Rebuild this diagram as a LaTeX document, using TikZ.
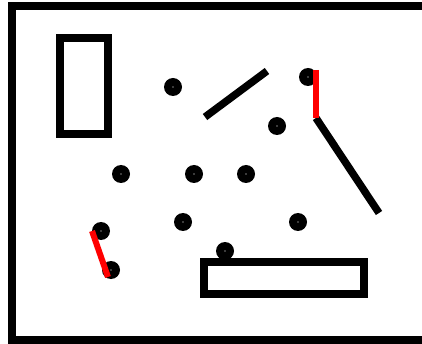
\documentclass[tikz,border=0pt]{standalone}
\usepackage{tikz}
\definecolor{cRed}{HTML}{FF0000}

\begin{document}
\begin{tikzpicture}[
   x=1pt, y=-1pt,
   wall/.style={draw=black, line width=8pt},
   rod/.style={draw=black, line width=7.5pt},
   redrod/.style={draw=cRed, line width=6pt},
   ball/.style={circle, fill=black, minimum size=18pt, inner sep=0pt,
                path picture={\fill[white] (path picture bounding box.center) circle (0.7pt);}}]
  \useasboundingbox (0,0) rectangle (422,344);
  \clip (0,0) rectangle (422,344);
  % walls and obstacles
  \draw[wall] (440,6) -- (12,6) -- (12,340) -- (440,340);
  \draw[wall] (60,38) rectangle (108,134);
  \draw[wall] (204,262) rectangle (364,294);
  % balls
  \node[ball] (b1)  at (173,87)  {};
  \node[ball] (b2)  at (308,77)  {};
  \node[ball] (b3)  at (277,126) {};
  \node[ball] (b4)  at (121,174) {};
  \node[ball] (b5)  at (194,174) {};
  \node[ball] (b6)  at (246,174) {};
  \node[ball] (b7)  at (101,231) {};
  \node[ball] (b8)  at (183,222) {};
  \node[ball] (b9)  at (298,222) {};
  \node[ball] (b10) at (225,251) {};
  \node[ball] (b11) at (111,270) {};
  % rods
  \coordinate (m1) at (205,117);
  \coordinate (m2) at (267,71);
  \coordinate (r1) at (316,70);
  \coordinate (r2) at (316,118);
  \coordinate (r3) at (379,213);
  \coordinate (l1) at (92,231);
  \coordinate (l2) at (108,277);
  \draw[rod] (m1) -- (m2);
  \draw[rod] (r2) -- (r3);
  \draw[redrod] (r1) -- (r2);
  \draw[redrod] (l1) -- (l2);
\end{tikzpicture}
\end{document}
